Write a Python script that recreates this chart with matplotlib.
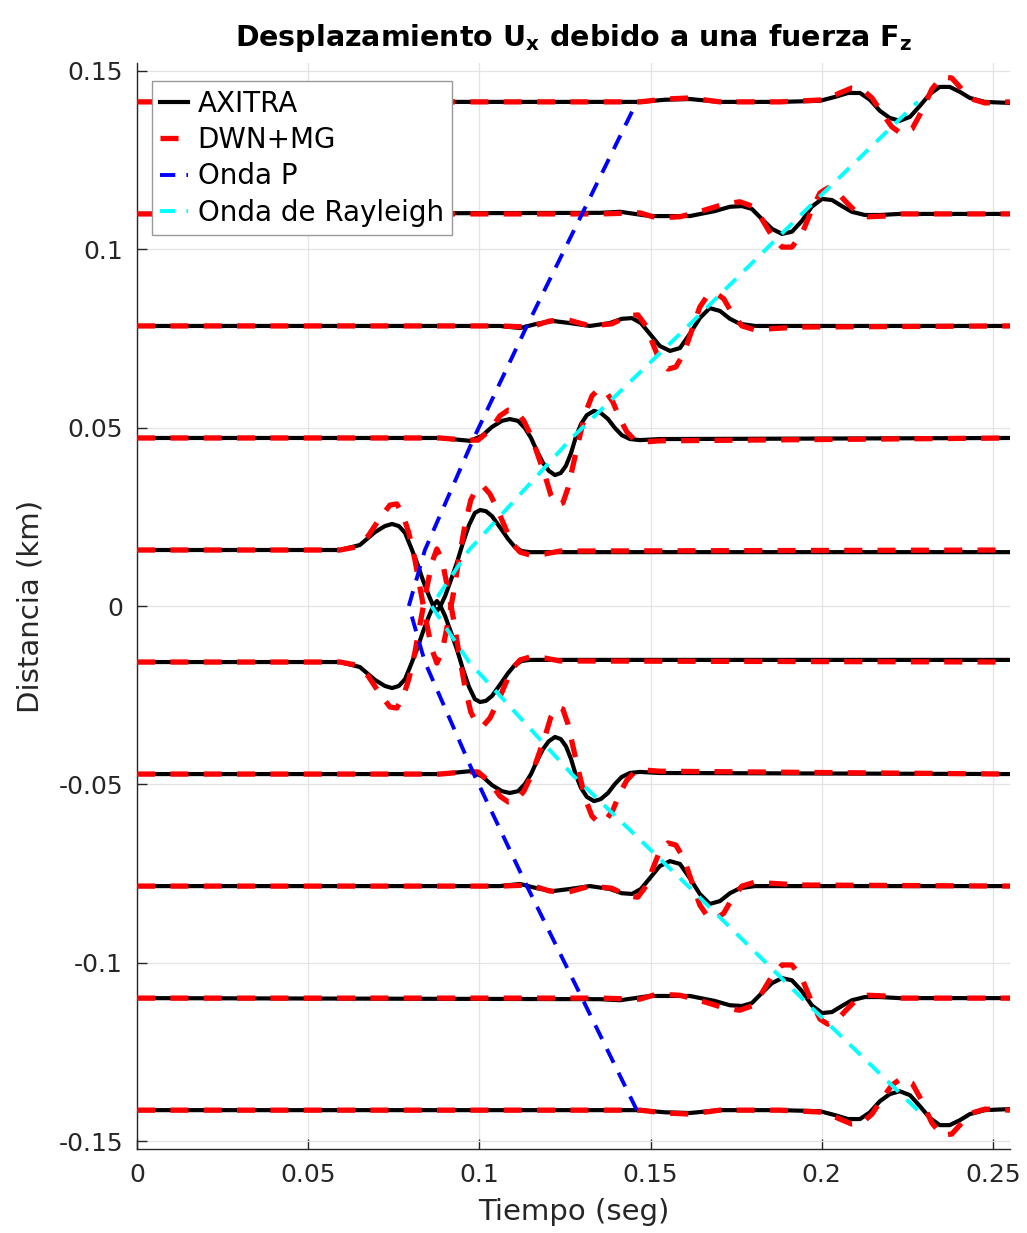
import numpy as np
import matplotlib
matplotlib.use("Agg")
import matplotlib.pyplot as plt

plt.rcParams['font.family'] = 'DejaVu Sans'
plt.rcParams['mathtext.fontset'] = 'dejavusans'
plt.rcParams['lines.scale_dashes'] = False

# receiver distances (km); the panel is antisymmetric, negative side = -trace
dist = [0.0157, 0.0471, 0.0785, 0.1099, 0.1413]

# AXITRA traces: time (s) and offset from baseline (km)
ax_t1 = [0, 0.0593, 0.0651, 0.0695, 0.0724, 0.0745, 0.0765, 0.0783, 0.0800, 0.0818,
         0.0835, 0.0853, 0.0867, 0.0876, 0.0885, 0.0900, 0.0917, 0.0935, 0.0952, 0.0970,
         0.0987, 0.1002, 0.1019, 0.1037, 0.1060, 0.1084, 0.1104, 0.1124, 0.1148, 0.255]
ax_a1 = [0, 0, 0.0014, 0.0050, 0.0067, 0.0073, 0.0067, 0.0048, 0.0008, -0.0036,
         -0.0084, -0.0129, -0.0160, -0.0171, -0.0160, -0.0129, -0.0084, -0.0034, 0.0020, 0.0070,
         0.0104, 0.0112, 0.0109, 0.0095, 0.0064, 0.0031, 0.0008, -0.0003, -0.0006, -0.0006]
ax_t2 = [0, 0.0885, 0.0973, 0.1008, 0.1037, 0.1066, 0.1089, 0.1113, 0.1133, 0.1151,
         0.1168, 0.1186, 0.1203, 0.1221, 0.1238, 0.1253, 0.1268, 0.1282, 0.1297, 0.1314,
         0.1335, 0.1355, 0.1376, 0.1396, 0.1416, 0.1440, 0.1469, 0.1527, 0.255]
ax_a2 = [0, 0, -0.0008, 0.0006, 0.0031, 0.0048, 0.0053, 0.0048, 0.0028, 0,
         -0.0036, -0.0070, -0.0092, -0.0104, -0.0098, -0.0078, -0.0042, 0.0003, 0.0039, 0.0064,
         0.0076, 0.0070, 0.0053, 0.0028, 0.0008, -0.0003, -0.0006, -0.0003, 0]
ax_t3 = [0, 0.1060, 0.1119, 0.1168, 0.1215, 0.1265, 0.1323, 0.1381, 0.1416, 0.1446,
         0.1472, 0.1498, 0.1527, 0.1557, 0.1586, 0.1615, 0.1644, 0.1673, 0.1703, 0.1732,
         0.1761, 0.1805, 0.255]
ax_a3 = [0, 0, -0.0006, 0.0006, 0.0014, 0.0008, 0, 0.0008, 0.0020, 0.0022,
         0.0008, -0.0022, -0.0056, -0.0070, -0.0062, -0.0022, 0.0022, 0.0050, 0.0042, 0.0020,
         0.0006, 0, 0]
ax_t4 = [0, 0.1352, 0.1411, 0.1498, 0.1615, 0.1688, 0.1732, 0.1767, 0.1796, 0.1825,
         0.1855, 0.1884, 0.1913, 0.1942, 0.1971, 0.2001, 0.2030, 0.2059, 0.2088, 0.2126,
         0.2170, 0.2228, 0.255]
ax_a4 = [0, 0.0003, 0.0006, -0.0006, -0.0006, 0.0008, 0.0020, 0.0022, 0.0014, -0.0014,
         -0.0042, -0.0056, -0.0050, -0.0020, 0.0020, 0.0042, 0.0039, 0.0022, 0.0006, -0.0003,
         -0.0003, 0, 0]
ax_t5 = [0, 0.1469, 0.1542, 0.1615, 0.1703, 0.1878, 0.1995, 0.2039, 0.2077, 0.2112,
         0.2141, 0.2170, 0.2199, 0.2228, 0.2258, 0.2287, 0.2316, 0.2345, 0.2374, 0.2404,
         0.2433, 0.2477, 0.255]
ax_a5 = [0, 0, 0.0006, 0.0008, 0, 0, 0.0003, 0.0014, 0.0025, 0.0025,
         0.0006, -0.0025, -0.0045, -0.0053, -0.0042, -0.0011, 0.0022, 0.0042, 0.0042, 0.0028,
         0.0011, 0, -0.0003]

# DWN+MG traces
rd_t1 = [0, 0.0593, 0.0637, 0.0675, 0.0710, 0.0739, 0.0759, 0.0777, 0.0794, 0.0812,
         0.0829, 0.0847, 0.0862, 0.0876, 0.0891, 0.0905, 0.0923, 0.0940, 0.0958, 0.0975,
         0.0993, 0.1011, 0.1031, 0.1051, 0.1075, 0.1095, 0.1119, 0.1148, 0.1192, 0.1235, 0.255]
rd_a1 = [0, 0, 0.0008, 0.0039, 0.0090, 0.0126, 0.0129, 0.0098, 0.0048, -0.0028,
         -0.0118, -0.0210, -0.0280, -0.0317, -0.0286, -0.0219, -0.0129, -0.0028, 0.0070, 0.0140,
         0.0174, 0.0179, 0.0157, 0.0118, 0.0064, 0.0020, -0.0006, -0.0014, -0.0011, -0.0003, 0]
rd_t2 = [0, 0.0885, 0.0958, 0.0996, 0.1031, 0.1060, 0.1084, 0.1107, 0.1130, 0.1151,
         0.1171, 0.1192, 0.1209, 0.1227, 0.1244, 0.1259, 0.1276, 0.1294, 0.1311, 0.1329,
         0.1349, 0.1370, 0.1390, 0.1411, 0.1431, 0.1454, 0.1484, 0.1527, 0.255]
rd_a2 = [0, 0, -0.0006, -0.0006, 0.0022, 0.0062, 0.0078, 0.0076, 0.0048, 0.0006,
         -0.0048, -0.0106, -0.0160, -0.0188, -0.0182, -0.0140, -0.0067, 0.0008, 0.0073, 0.0118,
         0.0137, 0.0129, 0.0101, 0.0053, 0.0017, -0.0006, -0.0011, -0.0008, 0]
rd_t3 = [0, 0.1060, 0.1148, 0.1206, 0.1259, 0.1323, 0.1387, 0.1434, 0.1463, 0.1487,
         0.1507, 0.1527, 0.1551, 0.1574, 0.1598, 0.1621, 0.1644, 0.1668, 0.1691, 0.1714,
         0.1738, 0.1767, 0.1805, 0.1849, 0.1936, 0.255]
rd_a3 = [0, 0, -0.0003, 0.0014, 0.0017, 0, 0.0006, 0.0028, 0.0031, 0,
         -0.0050, -0.0098, -0.0121, -0.0115, -0.0076, -0.0011, 0.0053, 0.0087, 0.0092, 0.0076,
         0.0036, 0, -0.0011, -0.0008, -0.0003, 0]
rd_t4 = [0, 0.1352, 0.1469, 0.1518, 0.1586, 0.1659, 0.1717, 0.1761, 0.1796, 0.1825,
         0.1855, 0.1884, 0.1913, 0.1942, 0.1971, 0.1995, 0.2018, 0.2042, 0.2071, 0.2100,
         0.2135, 0.2185, 0.2228, 0.255]
rd_a4 = [0, 0, 0.0003, -0.0011, -0.0008, 0.0011, 0.0028, 0.0034, 0.0022, -0.0014,
         -0.0062, -0.0093, -0.0093, -0.0056, 0.0011, 0.0059, 0.0073, 0.0064, 0.0034, 0.0006,
         -0.0008, -0.0006, 0, 0]
rd_t5 = [0, 0.1469, 0.1542, 0.1615, 0.1703, 0.1878, 0.2010, 0.2053, 0.2088, 0.2117,
         0.2147, 0.2176, 0.2205, 0.2234, 0.2264, 0.2293, 0.2322, 0.2351, 0.2380, 0.2409,
         0.2439, 0.2477, 0.255]
rd_a5 = [0, 0, 0.0008, 0.0011, 0, 0, 0.0006, 0.0025, 0.0039, 0.0036,
         0.0011, -0.0031, -0.0070, -0.0090, -0.0076, -0.0025, 0.0036, 0.0070, 0.0067, 0.0036,
         0.0008, -0.0003, 0]

# arrival curves
wave_dist = [0, 0.0157, 0.0471, 0.0785, 0.1099, 0.1413]
p_time = [0.0794, 0.0841, 0.0984, 0.1139, 0.1300, 0.1460]
r_time = [0.0860, 0.0970, 0.1270, 0.1610, 0.1942, 0.2280]

xticks = [0, 0.05, 0.1, 0.15, 0.2, 0.25]
xticklabels = ['0', '0.05', '0.1', '0.15', '0.2', '0.25']
yticks = [-0.15, -0.1, -0.05, 0, 0.05, 0.1, 0.15]
yticklabels = ['-0.15', '-0.1', '-0.05', '0', '0.05', '0.1', '0.15']

ax_traces = [(ax_t1, ax_a1), (ax_t2, ax_a2), (ax_t3, ax_a3), (ax_t4, ax_a4), (ax_t5, ax_a5)]
rd_traces = [(rd_t1, rd_a1), (rd_t2, rd_a2), (rd_t3, rd_a3), (rd_t4, rd_a4), (rd_t5, rd_a5)]

fig = plt.figure(figsize=(10.27, 12.33), dpi=100)
ax = fig.add_axes([0.1334, 0.0681, 0.85, 0.8808])

# AXITRA first (solid black), DWN+MG dashed red on top
for k, (t, a) in enumerate(ax_traces):
    a = np.array(a)
    lab = 'AXITRA' if k == 0 else None
    ax.plot(t, dist[k] + a, color='k', lw=3.0, label=lab, zorder=3)
    ax.plot(t, -dist[k] - a, color='k', lw=3.0, zorder=3)

for k, (t, a) in enumerate(rd_traces):
    a = np.array(a)
    lab = 'DWN+MG' if k == 0 else None
    ax.plot(t, dist[k] + a, color='red', lw=3.8, ls=(0, (13, 11)), label=lab, zorder=4)
    ax.plot(t, -dist[k] - a, color='red', lw=3.8, ls=(0, (13, 11)), zorder=4)

wd = np.array(wave_dist)
d_full = np.concatenate([-wd[::-1], wd[1:]])
p_full = np.concatenate([np.array(p_time)[::-1], np.array(p_time)[1:]])
r_full = np.concatenate([np.array(r_time)[::-1], np.array(r_time)[1:]])
ax.plot(p_full, d_full, color='blue', lw=2.8, ls=(0, (11, 8)), label='Onda P', zorder=5)
ax.plot(r_full, d_full, color='cyan', lw=2.8, ls=(0, (11, 8)), label='Onda de Rayleigh', zorder=5)

ax.set_xlim(0, 0.255)
ax.set_ylim(-0.1522, 0.1522)
ax.set_xticks(xticks)
ax.set_xticklabels(xticklabels)
ax.set_yticks(yticks)
ax.set_yticklabels(yticklabels)
ax.tick_params(direction='in', length=7, width=1, colors='#262626', labelsize=18, pad=10)
ax.grid(True, color='#e3e3e3', lw=0.9)
ax.set_axisbelow(True)
for s in ['top', 'right']:
    ax.spines[s].set_visible(False)
for s in ['left', 'bottom']:
    ax.spines[s].set_color('#262626')
    ax.spines[s].set_linewidth(1.0)

ax.set_xlabel('Tiempo (seg)', fontsize=21, color='#262626', labelpad=8)
ax.set_ylabel('Distancia (km)', fontsize=21, color='#262626', labelpad=10)
ax.set_title(r'Desplazamiento U$_{\mathbf{x}}$ debido a una fuerza F$_{\mathbf{z}}$',
             fontsize=20.5, fontweight='bold', pad=12)

leg = ax.legend(loc='upper left', bbox_to_anchor=(0.017, 0.983), borderaxespad=0,
                fontsize=20, handlelength=1.0, handletextpad=0.35, labelspacing=0.3,
                borderpad=0.3, fancybox=False, framealpha=1, edgecolor='#999999')
leg.get_frame().set_linewidth(1.0)

fig.savefig('out.png', dpi=100)
